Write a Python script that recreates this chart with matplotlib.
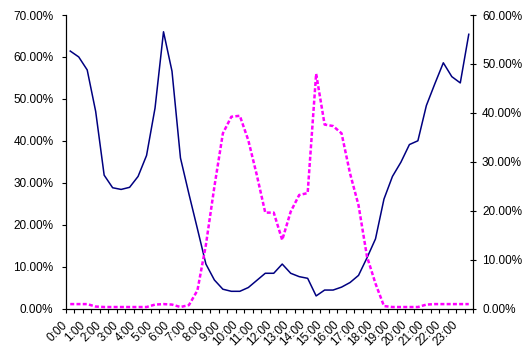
import numpy as np
import matplotlib.pyplot as plt
import matplotlib.transforms as mtransforms
from matplotlib.ticker import FixedLocator, PercentFormatter

plt.rcParams['font.family'] = ['Liberation Sans', 'DejaVu Sans']

# half-hourly categories, label every full hour
hours = ["%d:00" % h for h in range(24)]

# left axis series (navy)
share_left = [61.4, 60.0, 56.9, 47.0, 31.8, 28.8, 28.4, 28.9, 31.5, 36.5,
              47.8, 66.0, 56.6, 35.9, 27.3, 19.0, 10.6, 6.8, 4.6, 4.1,
              4.1, 5.0, 6.7, 8.4, 8.4, 10.6, 8.4, 7.6, 7.2, 3.0,
              4.4, 4.4, 5.1, 6.2, 7.9, 12.1, 16.6, 26.1, 31.5, 34.9,
              39.1, 40.0, 48.4, 53.6, 58.6, 55.3, 53.8, 65.4]

# right axis series (magenta)
share_right = [0.9, 0.9, 0.9, 0.4, 0.3, 0.3, 0.3, 0.3, 0.3, 0.3,
               0.8, 0.9, 0.8, 0.3, 0.7, 3.7, 13.0, 24.9, 35.8, 39.2,
               39.4, 34.4, 27.3, 19.6, 19.6, 14.0, 19.8, 23.2, 23.6, 48.0,
               37.6, 37.3, 35.8, 27.6, 21.1, 10.6, 5.1, 0.5, 0.3, 0.3,
               0.3, 0.3, 0.8, 0.9, 0.9, 0.9, 0.9, 0.9]

n = len(share_left)
x = np.arange(n)

fig = plt.figure(figsize=(5.29, 3.54), dpi=100)
ax = fig.add_axes([66/529, 1 - 308.5/354, (473-66)/529, (308.5-15)/354])
ax2 = ax.twinx()

ax.plot(x, share_left, color='#000080', lw=1.1)
ax2.plot(x, share_right, color='#FF00FF', lw=1.8, dashes=(1.6, 0.9))

ax.set_xlim(-0.5, n - 0.5)
ax.set_ylim(0, 70)
ax2.set_ylim(0, 60)
ax.set_yticks(np.arange(0, 71, 10))
ax2.set_yticks(np.arange(0, 61, 10))
ax.yaxis.set_major_formatter(PercentFormatter(decimals=2))
ax2.yaxis.set_major_formatter(PercentFormatter(decimals=2))

ax.set_xticks(x[::2])
ax.set_xticklabels(hours, rotation=45, ha='right', va='top')
shift = mtransforms.ScaledTranslation(-11/100, 0, fig.dpi_scale_trans)
for lbl in ax.get_xticklabels():
    lbl.set_transform(lbl.get_transform() + shift)
ax.xaxis.set_minor_locator(FixedLocator(np.arange(-0.5, n, 1)))
ax.tick_params(axis='x', which='major', length=0, pad=7.5, labelsize=8.5)
ax.tick_params(axis='x', which='minor', length=3, width=0.8, direction='out')
ax.tick_params(axis='y', length=3, width=0.8, direction='out', pad=6, labelsize=8.5)
ax2.tick_params(axis='y', length=5, width=0.8, direction='inout', pad=4, labelsize=8.5)

for a in (ax, ax2):
    a.spines['top'].set_visible(False)
    for s in ('left', 'right', 'bottom'):
        a.spines[s].set_linewidth(0.8)

fig.savefig('out.png', dpi=100)
